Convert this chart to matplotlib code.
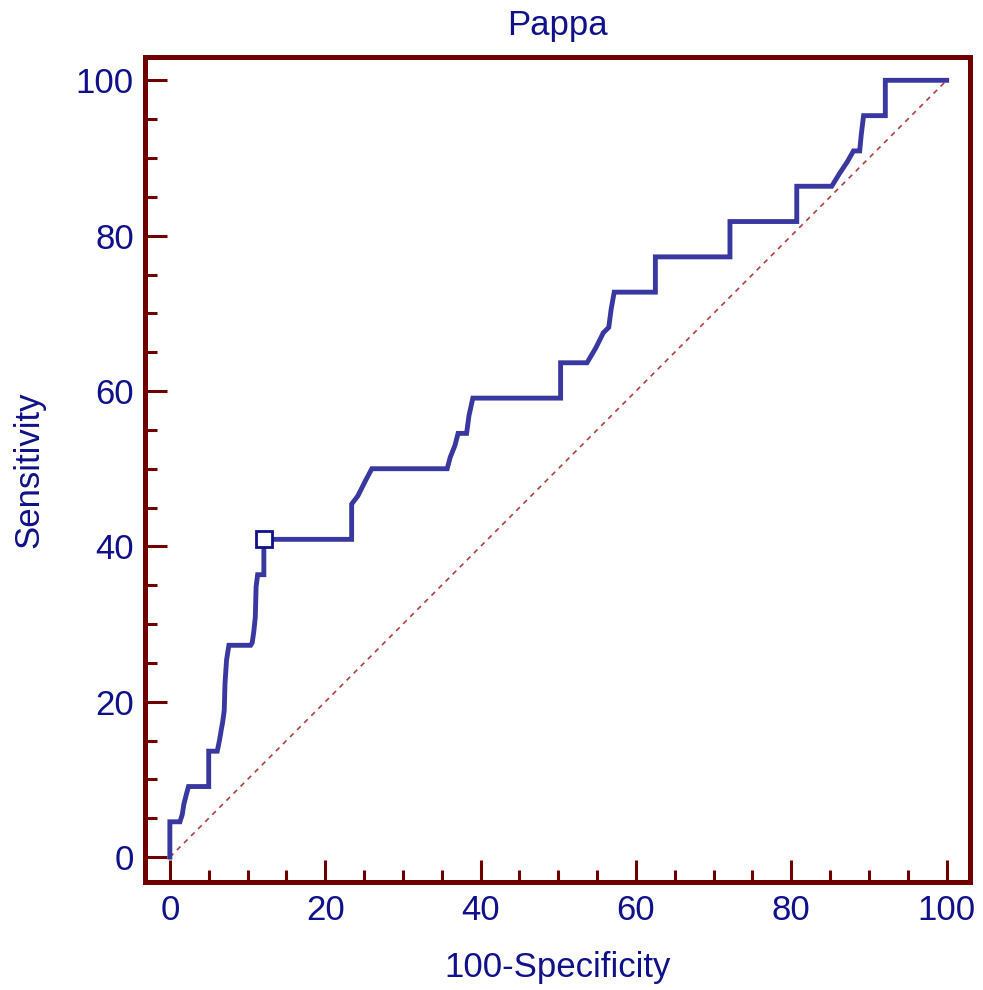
import matplotlib
matplotlib.use("Agg")
import matplotlib.pyplot as plt
from matplotlib.ticker import MultipleLocator

# ROC curve points (100-Specificity, Sensitivity)
fpr = [0, 0, 1.3, 1.6, 1.8, 2.1, 2.4, 5.0, 5.0, 6.1, 6.4, 6.6, 6.8, 7.0, 7.1, 7.3, 7.6,
       10.4, 10.6, 10.8, 11.0, 11.1, 11.3, 12.1, 12.1, 23.4, 23.4, 24.2, 25.2, 26.0,
       35.7, 36.1, 36.7, 37.1, 38.2, 38.5, 39.0, 50.3, 50.3, 53.7, 54.8, 55.8, 56.5,
       56.8, 57.2, 62.5, 62.5, 72.1, 72.1, 80.7, 80.7, 85.2, 86.2, 87.2, 88.0, 88.8,
       89.0, 89.3, 92.1, 92.1, 100]
tpr = [0, 4.55, 4.55, 5.5, 6.8, 8.0, 9.09, 9.09, 13.64, 13.64, 15.1, 16.3, 17.4, 18.9, 22.4, 25.4, 27.27,
       27.27, 27.6, 29.0, 30.9, 34.8, 36.36, 36.36, 40.91, 40.91, 45.45, 46.5, 48.5, 50.0,
       50.0, 51.5, 53.0, 54.55, 54.55, 56.8, 59.09, 59.09, 63.64, 63.64, 65.5, 67.5, 68.2,
       70.5, 72.73, 72.73, 77.27, 77.27, 81.82, 81.82, 86.36, 86.36, 88.0, 89.5, 90.91, 90.91,
       93.0, 95.45, 95.45, 100, 100]

# optimal criterion point
crit_x = [12.1]
crit_y = [40.91]

title = "Pappa"
xlabel = "100-Specificity"
ylabel = "Sensitivity"

frame_col = "#6e0000"
text_col = "#10108a"
line_col = "#3838a0"
diag_col = "#b04040"
fam = ["Liberation Sans", "DejaVu Sans"]

fig = plt.figure(figsize=(9.83, 9.9), dpi=100)
ax = fig.add_axes([145 / 983, 1 - 882 / 990, 825 / 983, 825 / 990])

ax.plot([0, 100], [0, 100], color=diag_col, lw=1.2, ls=(0, (3, 3)), zorder=1)
ax.plot(fpr, tpr, color=line_col, lw=3.5, solid_joinstyle="miter", zorder=2)
ax.plot(crit_x, crit_y, ls="none", marker="s", ms=11, mfc="white",
        mec="#10108a", mew=2, zorder=3)

ax.set_xlim(-3.2, 103)
ax.set_ylim(-3.2, 103)
ax.xaxis.set_major_locator(MultipleLocator(20))
ax.xaxis.set_minor_locator(MultipleLocator(5))
ax.yaxis.set_major_locator(MultipleLocator(20))
ax.yaxis.set_minor_locator(MultipleLocator(5))

for s in ax.spines.values():
    s.set_color(frame_col)
    s.set_linewidth(3.6)

ax.tick_params(which="major", direction="in", length=16, width=2.2, color=frame_col,
               labelsize=25, labelcolor=text_col)
ax.tick_params(axis="y", which="major", pad=8)
ax.tick_params(axis="x", which="major", pad=9)
ax.tick_params(which="minor", direction="in", length=8.5, width=2.2, color=frame_col)
for lab in ax.get_xticklabels() + ax.get_yticklabels():
    lab.set_family(fam)

ax.set_title(title, fontsize=25, color=text_col, family=fam, pad=16)
ax.set_xlabel(xlabel, fontsize=25, color=text_col, family=fam, labelpad=17)
ax.set_ylabel(ylabel, fontsize=25, color=text_col, family=fam, labelpad=22)

fig.savefig("out.png", dpi=100)
